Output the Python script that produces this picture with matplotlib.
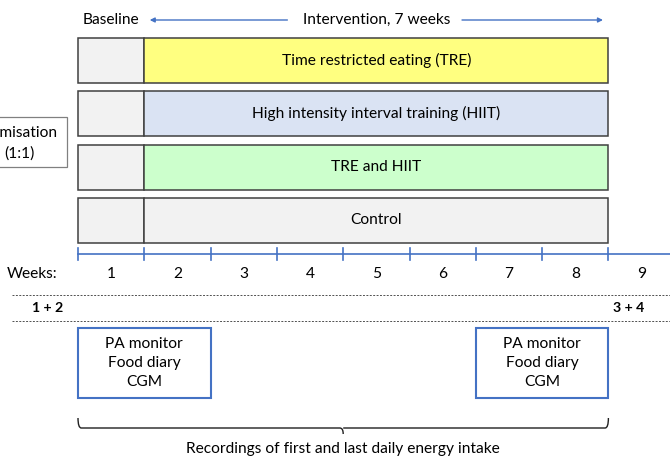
import matplotlib.pyplot as plt
from matplotlib.patches import Rectangle
from matplotlib.path import Path
from matplotlib.patches import PathPatch

plt.rcParams['font.family'] = ['Lato', 'DejaVu Sans']

# study design
weeks = [1, 2, 3, 4, 5, 6, 7, 8, 9]
baseline_weeks = 1
intervention_weeks = 7
arms = ['Time restricted eating (TRE)', 'High intensity interval training (HIIT)',
        'TRE and HIIT', 'Control']
arm_colors = ['#ffff80', '#dae3f3', '#ccffcc', '#f2f2f2']
visits = ['1 + 2', '3 + 4']
recording_weeks = [(1, 2), (7, 8)]
measures = ['PA monitor', 'Food diary', 'CGM']

blue = '#4472c4'
px = 66.3  # pixels per week

fig = plt.figure(figsize=(6.7, 4.57), dpi=100)
ax = fig.add_axes([0, 0, 1, 1])
ax.set_xlim(-78 / px, (670 - 78) / px)
ax.set_ylim(457, 0)
ax.axis('off')

end = baseline_weeks + intervention_weeks
fs = 11.2

# header
ax.text(baseline_weeks / 2, 20, 'Baseline', ha='center', va='center', fontsize=fs)
mid = baseline_weeks + intervention_weeks / 2
ax.text(mid, 20, f'Intervention, {intervention_weeks} weeks', ha='center', va='center', fontsize=fs)
ax.annotate('', xy=(baseline_weeks + 0.04, 20), xytext=(mid - 1.3, 20),
            arrowprops=dict(arrowstyle='-|>', color=blue, lw=1, mutation_scale=7))
ax.annotate('', xy=(end - 0.04, 20), xytext=(mid + 1.25, 20),
            arrowprops=dict(arrowstyle='-|>', color=blue, lw=1, mutation_scale=7))

# arms
for i, (name, col) in enumerate(zip(arms, arm_colors)):
    top = 38 + i * 53.3
    h = 45
    ax.add_patch(Rectangle((0, top), baseline_weeks, h, facecolor='#f2f2f2',
                           edgecolor='#404040', lw=1.1))
    ax.add_patch(Rectangle((baseline_weeks, top), intervention_weeks, h, facecolor=col,
                           edgecolor='#404040', lw=1.1))
    ax.text(mid, top + h / 2, name, ha='center', va='center', fontsize=fs)

# randomisation box (cut at left edge)
ax.add_patch(Rectangle((-2.5, 117), 2.5 - 11 / px, 50, facecolor='white',
                       edgecolor='#808080', lw=0.9, clip_on=False))
ax.text(-20 / px, 133, 'Randomisation', ha='right', va='center', fontsize=fs)
ax.text(-43 / px, 154, '(1:1)', ha='right', va='center', fontsize=fs)

# timeline
ax.plot([0, 700 / px], [254, 254], color=blue, lw=1.2)
for b in range(end + 1):
    ax.plot([b, b], [248, 260], color=blue, lw=1.2)
for w in weeks:
    ax.text(w - 0.5, 274, str(w), ha='center', va='center', fontsize=fs)
ax.text(-21 / px, 274, 'Weeks:', ha='right', va='center', fontsize=fs)

# visits
for y in (295, 321):
    ax.plot([-66 / px, 700 / px], [y, y], color='#505050', lw=0.7, ls=(0, (2, 1.5)))
ax.text(-30 / px, 308, visits[0], ha='center', va='center', fontsize=fs - 1, fontweight='bold')
ax.text(end + 0.3, 308, visits[1], ha='center', va='center',
        fontsize=fs - 1, fontweight='bold')

# recording periods
for a, b in recording_weeks:
    ax.add_patch(Rectangle((a - 1, 328), b - a + 1, 70, facecolor='white',
                           edgecolor=blue, lw=1.5))
    ax.text((a - 1 + b) / 2, 363, '\n'.join(measures), ha='center', va='center',
            fontsize=fs, linespacing=1.45)

# brace
x0, x1 = recording_weeks[0][0] - 1, recording_weeks[1][1]
xc = (x0 + x1) / 2
r = 0.05
verts = [(x0, 418), (x0, 428), (x0 + r, 428),
         (xc - r, 428), (xc, 428), (xc, 434),
         (xc, 428), (xc + r, 428),
         (x1 - r, 428), (x1, 428), (x1, 418)]
codes = [Path.MOVETO, Path.CURVE3, Path.CURVE3,
         Path.LINETO, Path.CURVE3, Path.CURVE3,
         Path.MOVETO, Path.LINETO,
         Path.LINETO, Path.CURVE3, Path.CURVE3]
ax.add_patch(PathPatch(Path(verts, codes), facecolor='none', edgecolor='#202020', lw=1))
ax.text(xc, 449, 'Recordings of first and last daily energy intake', ha='center',
        va='center', fontsize=fs)

fig.savefig('out.png', dpi=100)
